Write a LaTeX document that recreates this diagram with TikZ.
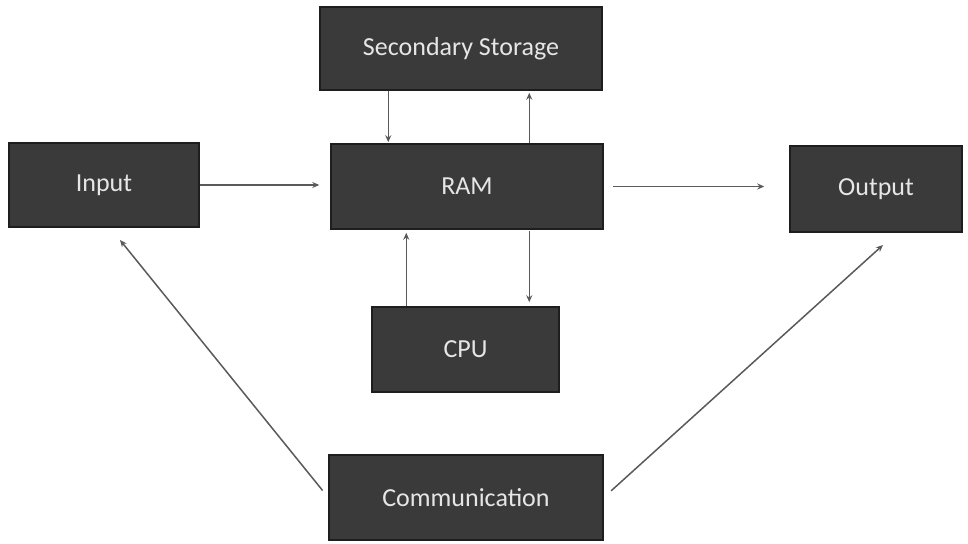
\documentclass[tikz,border=0pt]{standalone}
\usepackage{fontspec}
\setmainfont{Carlito}
\usetikzlibrary{arrows.meta,calc}
\definecolor{boxfill}{HTML}{3A3A3A}
\definecolor{boxline}{HTML}{1E1E1E}
\definecolor{boxtext}{HTML}{E6E6E6}
\definecolor{arrowcol}{HTML}{5A5A5A}
\tikzset{
  blk/.style={draw=boxline, line width=1.5pt, fill=boxfill, text=boxtext,
    inner sep=0pt, font=\fontsize{26}{30}\selectfont},
  arr/.style={draw=arrowcol, line width=1.5pt,
    -{Stealth[length=7pt,width=6pt]}},
}
\begin{document}
\begin{tikzpicture}[x=1pt,y=-1pt]
\useasboundingbox[fill=white] (0,0) rectangle (968,543);
% boxes: centre (x,y), size
\node[blk, minimum width=282pt, minimum height=83pt] (sec) at (461,48.5) {Secondary Storage};
\node[blk, minimum width=190pt, minimum height=84pt] (input) at (104,185) {Input};
\node[blk, minimum width=272pt, minimum height=85pt] (ram) at (467,186.5) {RAM};
\node[blk, minimum width=172pt, minimum height=86pt] (output) at (876,189) {Output};
\node[blk, minimum width=187pt, minimum height=85pt] (cpu) at (465.5,349.5) {CPU};
\node[blk, minimum width=274pt, minimum height=85pt] (comm) at (466,497.5) {Communication};
% free ends
\coordinate (inTip) at (120,240);
\coordinate (outTip) at (883,245);
% connectors
\draw[arr, shorten >=11pt] (input.east) -- (input.east -| ram.west);
\draw[arr, shorten <=9pt, shorten >=25pt] (ram.east) -- (ram.east -| output.west);
\draw[arr, shorten >=1pt] ([xshift=69pt]sec.south west) -- ([xshift=69pt]sec.south west |- ram.north);
\draw[arr, shorten >=2pt] ([xshift=199pt]ram.north west) -- ([xshift=199pt]ram.north west |- sec.south);
\draw[arr, shorten >=3pt] ([xshift=35pt]cpu.north west) -- ([xshift=35pt]cpu.north west |- ram.south);
\draw[arr, shorten <=1pt, shorten >=4pt] ([xshift=158pt]cpu.north west |- ram.south) -- ([xshift=158pt]cpu.north west);
\draw[arr, shorten <=9pt] (comm.west) -- (inTip);
\draw[arr, shorten <=10pt] (comm.east) -- (outTip);
\end{tikzpicture}
\end{document}
